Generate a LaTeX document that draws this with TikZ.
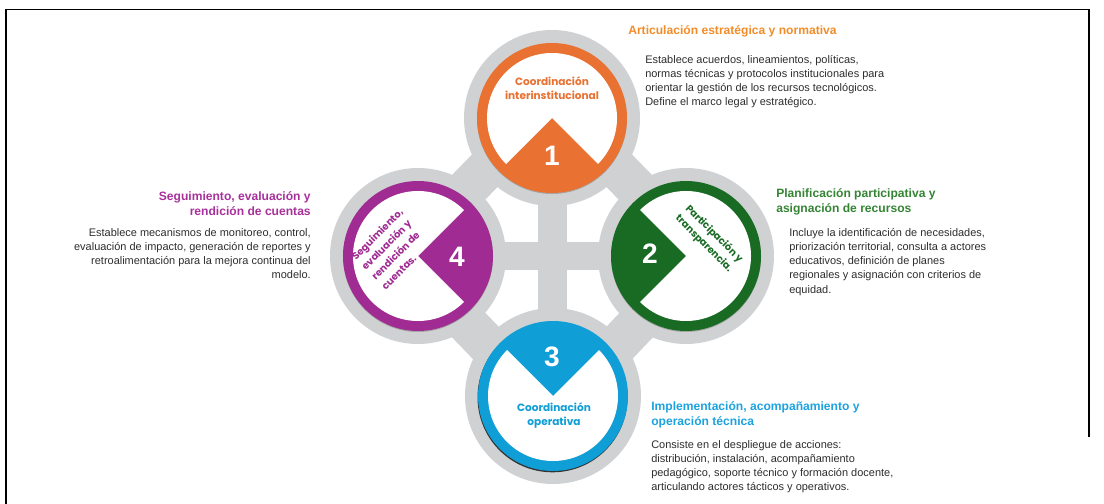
\documentclass[tikz,border=0pt]{standalone}
\usepackage{fontspec}
\setmainfont{Liberation Sans}
\newfontfamily\circfont{Poppins}
\usepackage{tikz}
\usetikzlibrary{calc}
\definecolor{ringgray}{RGB}{207,209,211}
\definecolor{coordorange}{RGB}{233,113,50}
\definecolor{headorange}{RGB}{242,140,40}
\definecolor{plangreen}{RGB}{25,107,36}
\definecolor{headgreen}{RGB}{52,132,52}
\definecolor{operblue}{RGB}{15,158,213}
\definecolor{headblue}{RGB}{28,162,222}
\definecolor{evalpurple}{RGB}{160,43,147}
\definecolor{headpurple}{RGB}{168,48,155}
\definecolor{bodygray}{RGB}{45,45,45}

\begin{document}
\begin{tikzpicture}[
    x=0.025cm, y=0.025cm,
    every node/.style={inner sep=0pt},
    head/.style={font=\fontsize{8.6}{10.7}\selectfont\bfseries},
    body/.style={font=\fontsize{7.8}{10.1}\selectfont, text=bodygray},
    circtext/.style={font=\circfont\fontsize{7.5}{10.2}\selectfont\bfseries, align=center},
    slanttext/.style={font=\circfont\fontsize{7}{10}\selectfont\bfseries, align=left},
    numtext/.style={font=\fontsize{20}{20}\selectfont\bfseries, text=white}
]
\useasboundingbox (0,0) rectangle (1104,-504);

% Frame
\draw[line width=1.4pt] (6,-504) -- (6,-9.5) -- (1089,-9.5) -- (1089,-437);

% Centres
\coordinate (c1) at (552,-118);
\coordinate (c2) at (686,-256);
\coordinate (c3) at (553,-396);
\coordinate (c4) at (418,-256);

% Grey frame
\foreach \a/\b in {c4/c1, c1/c2, c2/c3, c3/c4}
  \fill[ringgray] ($(\a)!0.8cm!90:(\b)$) -- ($(\b)!0.8cm!-90:(\a)$)
    -- ($(\b)!0.225cm!90:(\a)$) -- ($(\a)!0.225cm!-90:(\b)$) -- cycle;
\foreach \c in {c1,c2,c3,c4}
  \fill[ringgray] (\c) circle[radius=88];
\fill[ringgray] ($(c1)+(-14,0)$) rectangle ($(c3)+(14,0)$);
\fill[ringgray] ($(c4)+(0,14)$) rectangle ($(c2)+(0,-14)$);

% Shadows
\foreach \c in {c1,c2,c4}
  \fill[black!35] ($(\c)+(0,-1)$) circle[radius=75];
\fill[black!80] ($(c3)+(-0.5,-1.3)$) circle[radius=75];

% Circle 1
\fill[coordorange] (c1) circle[radius=75];
\fill[white] (c1) -- ++(-45:65) arc[start angle=-45, end angle=225, radius=65] -- cycle;
% Circle 2
\fill[plangreen] (c2) circle[radius=75];
\fill[white] (c2) -- ++(-135:65) arc[start angle=-135, end angle=135, radius=65] -- cycle;
% Circle 3
\fill[operblue] (c3) circle[radius=75];
\fill[white] (c3) -- ++(135:65) arc[start angle=135, end angle=405, radius=65] -- cycle;
% Circle 4
\fill[evalpurple] (c4) circle[radius=75];
\fill[white] (c4) -- ++(45:65) arc[start angle=45, end angle=315, radius=65] -- cycle;

% Numbers
\node[numtext] (num1) at (552,-156) {1};
\node[numtext] (num2) at (650,-254) {2};
\node[numtext] (num3) at (552,-357) {3};
\node[numtext] (num4) at (457,-257) {4};

% Circle labels
\node[circtext, text=coordorange] (lbl1) at (552,-88) {Coordinación\\interinstitucional};
\node[slanttext, text=plangreen, rotate=-45] (lbl2) at (709,-239) {Participación y\\transparencia.};
\node[circtext, text=operblue] (lbl3) at (554,-415.5) {Coordinación\\operativa};
\node[slanttext, text=evalpurple, rotate=45] (lbl4) at (392,-249) {Seguimiento,\\evaluación y\\rendición de\\cuentas.};

% Descriptions
\node[head, text=headorange, anchor=west] (head1) at (628,-31) {Articulación estratégica y normativa};
\node[body, anchor=north west, align=left] (body1) at (645,-55) {Establece acuerdos, lineamientos, políticas,\\normas técnicas y protocolos institucionales para\\orientar la gestión de los recursos tecnológicos.\\Define el marco legal y estratégico.};

\node[head, text=headgreen, anchor=north west, align=left] (head2) at (776,-188) {Planificación participativa y\\asignación de recursos};
\node[body, anchor=north west, align=left] (body2) at (789,-228) {Incluye la identificación de necesidades,\\priorización territorial, consulta a actores\\educativos, definición de planes\\regionales y asignación con criterios de\\equidad.};

\node[head, text=headblue, anchor=north west, align=left] (head3) at (651,-401) {Implementación, acompañamiento y\\operación técnica};
\node[body, anchor=north west, align=left] (body3) at (651,-440) {Consiste en el despliegue de acciones:\\distribución, instalación, acompañamiento\\pedagógico, soporte técnico y formación docente,\\articulando actores tácticos y operativos.};

\node[head, text=headpurple, anchor=north east, align=right] (head4) at (311,-191) {Seguimiento, evaluación y\\rendición de cuentas};
\node[body, anchor=north east, align=right] (body4) at (311,-228) {Establece mecanismos de monitoreo, control,\\evaluación de impacto, generación de reportes y\\retroalimentación para la mejora continua del\\modelo.};

\end{tikzpicture}
\end{document}
